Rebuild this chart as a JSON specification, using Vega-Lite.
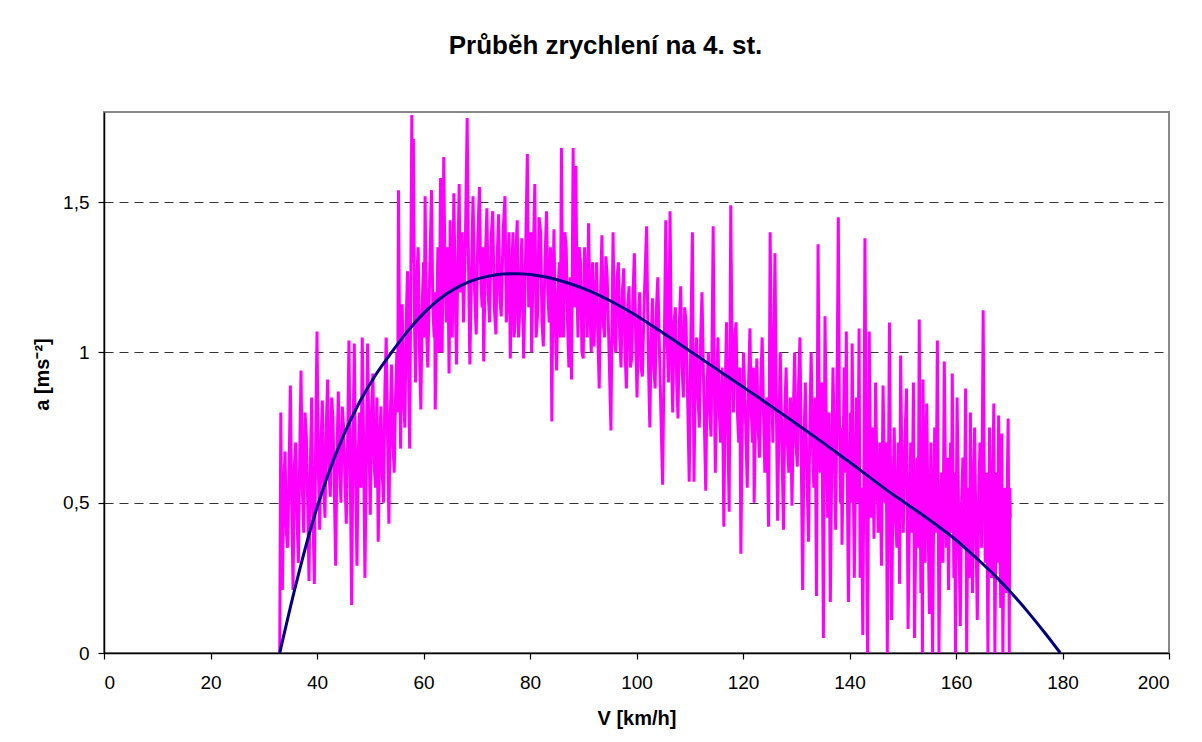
{
  "$schema": "https://vega.github.io/schema/vega-lite/v6.json",
  "width": 1065,
  "height": 541,
  "autosize": {"type": "none"},
  "padding": {"left": 104, "top": 112, "right": 33, "bottom": 89},
  "background": "white",
  "title": {
    "text": "Průběh zrychlení na 4. st.",
    "font": "Liberation Sans",
    "fontSize": 26,
    "fontWeight": "bold",
    "color": "black",
    "anchor": "middle",
    "dx": -31,
    "baseline": "alphabetic",
    "offset": 32
  },
  "config": {
    "locale": {"number": {"decimal": ",", "thousands": " ", "grouping": [3], "currency": ["", " Kč"]}},
    "view": {"stroke": "#888888", "strokeWidth": 2},
    "axis": {
      "labelFont": "Liberation Sans",
      "labelFontSize": 19,
      "labelColor": "black",
      "titleFont": "Liberation Sans",
      "titleFontSize": 20,
      "titleFontWeight": "bold",
      "titleColor": "black",
      "domainColor": "black",
      "domainWidth": 1.5,
      "tickColor": "black",
      "tickWidth": 1.2,
      "tickSize": 6
    }
  },
  "datasets": {
    "noise": [
      {"v": 33.0, "a": 0.00}, {"v": 33.2, "a": 0.80}, {"v": 33.35, "a": 0.45}, {"v": 33.5, "a": 0.21}, {"v": 33.75, "a": 0.55},
      {"v": 34.0, "a": 0.67}, {"v": 34.25, "a": 0.40}, {"v": 34.5, "a": 0.35}, {"v": 34.75, "a": 0.60}, {"v": 35.0, "a": 0.89},
      {"v": 35.25, "a": 0.50}, {"v": 35.5, "a": 0.21}, {"v": 35.75, "a": 0.62}, {"v": 36.0, "a": 0.70}, {"v": 36.25, "a": 0.45},
      {"v": 36.5, "a": 0.30}, {"v": 36.75, "a": 0.65}, {"v": 37.0, "a": 0.94}, {"v": 37.25, "a": 0.55}, {"v": 37.5, "a": 0.40},
      {"v": 37.75, "a": 0.80}, {"v": 38.0, "a": 0.72}, {"v": 38.25, "a": 0.50}, {"v": 38.5, "a": 0.24}, {"v": 38.75, "a": 0.62},
      {"v": 39.0, "a": 0.85}, {"v": 39.25, "a": 0.45}, {"v": 39.5, "a": 0.23}, {"v": 39.75, "a": 0.70}, {"v": 40.0, "a": 1.07},
      {"v": 40.25, "a": 0.62}, {"v": 40.5, "a": 0.41}, {"v": 40.75, "a": 0.70}, {"v": 41.0, "a": 0.84}, {"v": 41.25, "a": 0.55},
      {"v": 41.5, "a": 0.45}, {"v": 41.75, "a": 0.76}, {"v": 42.0, "a": 0.91}, {"v": 42.25, "a": 0.60}, {"v": 42.5, "a": 0.52},
      {"v": 42.75, "a": 0.85}, {"v": 43.0, "a": 0.78}, {"v": 43.25, "a": 0.55}, {"v": 43.5, "a": 0.29}, {"v": 43.75, "a": 0.66},
      {"v": 44.0, "a": 0.87}, {"v": 44.25, "a": 0.62}, {"v": 44.5, "a": 0.50}, {"v": 44.75, "a": 0.82}, {"v": 45.0, "a": 0.75},
      {"v": 45.25, "a": 0.58}, {"v": 45.5, "a": 0.43}, {"v": 45.75, "a": 0.70}, {"v": 46.0, "a": 1.04}, {"v": 46.25, "a": 0.60},
      {"v": 46.5, "a": 0.16}, {"v": 46.75, "a": 0.68}, {"v": 47.0, "a": 1.03}, {"v": 47.25, "a": 0.60}, {"v": 47.5, "a": 0.29},
      {"v": 47.75, "a": 0.66}, {"v": 48.0, "a": 0.80}, {"v": 48.25, "a": 0.55}, {"v": 48.5, "a": 1.05}, {"v": 48.75, "a": 0.70},
      {"v": 49.0, "a": 0.25}, {"v": 49.25, "a": 0.62}, {"v": 49.5, "a": 1.03}, {"v": 49.75, "a": 0.72}, {"v": 50.0, "a": 0.46},
      {"v": 50.25, "a": 0.80}, {"v": 50.5, "a": 0.93}, {"v": 50.75, "a": 0.62}, {"v": 51.0, "a": 0.55}, {"v": 51.25, "a": 0.85},
      {"v": 51.5, "a": 0.37}, {"v": 51.75, "a": 0.68}, {"v": 52.0, "a": 0.82}, {"v": 52.25, "a": 0.60}, {"v": 52.5, "a": 0.50},
      {"v": 52.75, "a": 0.88}, {"v": 53.0, "a": 1.05}, {"v": 53.25, "a": 0.72}, {"v": 53.5, "a": 0.43}, {"v": 53.75, "a": 0.78},
      {"v": 54.0, "a": 0.96}, {"v": 54.25, "a": 0.70}, {"v": 54.5, "a": 0.60}, {"v": 54.75, "a": 0.85}, {"v": 55.0, "a": 1.00},
      {"v": 55.15, "a": 0.80}, {"v": 55.3, "a": 1.54}, {"v": 55.5, "a": 1.05}, {"v": 55.7, "a": 0.68}, {"v": 55.85, "a": 1.00},
      {"v": 56.0, "a": 1.16}, {"v": 56.25, "a": 0.85}, {"v": 56.5, "a": 0.75}, {"v": 56.75, "a": 1.10}, {"v": 57.0, "a": 1.27},
      {"v": 57.2, "a": 0.95}, {"v": 57.4, "a": 0.68}, {"v": 57.6, "a": 1.20}, {"v": 57.8, "a": 1.79}, {"v": 57.95, "a": 1.30},
      {"v": 58.1, "a": 1.71}, {"v": 58.3, "a": 1.10}, {"v": 58.5, "a": 0.90}, {"v": 58.75, "a": 1.25}, {"v": 59.0, "a": 1.35},
      {"v": 59.25, "a": 1.00}, {"v": 59.5, "a": 0.81}, {"v": 59.75, "a": 1.15}, {"v": 60.0, "a": 1.30}, {"v": 60.15, "a": 1.05},
      {"v": 60.3, "a": 1.52}, {"v": 60.55, "a": 1.10}, {"v": 60.8, "a": 0.95}, {"v": 61.15, "a": 1.25}, {"v": 61.5, "a": 1.54},
      {"v": 61.75, "a": 1.15}, {"v": 62.0, "a": 1.05}, {"v": 62.1, "a": 1.20}, {"v": 62.2, "a": 0.81}, {"v": 62.45, "a": 1.10},
      {"v": 62.7, "a": 1.35}, {"v": 62.95, "a": 1.00}, {"v": 63.2, "a": 1.58}, {"v": 63.35, "a": 1.20}, {"v": 63.5, "a": 1.00},
      {"v": 63.65, "a": 1.30}, {"v": 63.8, "a": 1.65}, {"v": 64.05, "a": 1.25}, {"v": 64.3, "a": 1.10}, {"v": 64.55, "a": 1.35},
      {"v": 64.8, "a": 0.93}, {"v": 64.9, "a": 1.15}, {"v": 65.0, "a": 1.44}, {"v": 65.2, "a": 1.15}, {"v": 65.4, "a": 1.05},
      {"v": 65.55, "a": 1.30}, {"v": 65.7, "a": 1.53}, {"v": 65.95, "a": 1.20}, {"v": 66.2, "a": 0.96}, {"v": 66.45, "a": 1.30},
      {"v": 66.7, "a": 1.56}, {"v": 66.85, "a": 1.25}, {"v": 67.0, "a": 1.20}, {"v": 67.25, "a": 1.40}, {"v": 67.5, "a": 1.10},
      {"v": 67.85, "a": 1.35}, {"v": 68.2, "a": 1.78}, {"v": 68.45, "a": 1.30}, {"v": 68.7, "a": 0.96}, {"v": 69.0, "a": 1.25},
      {"v": 69.3, "a": 1.52}, {"v": 69.6, "a": 1.20}, {"v": 69.9, "a": 1.06}, {"v": 70.2, "a": 1.38}, {"v": 70.5, "a": 1.55},
      {"v": 70.75, "a": 1.25}, {"v": 71.0, "a": 1.15}, {"v": 71.15, "a": 1.35}, {"v": 71.3, "a": 0.97}, {"v": 71.6, "a": 1.30},
      {"v": 71.9, "a": 1.48}, {"v": 72.15, "a": 1.20}, {"v": 72.4, "a": 1.10}, {"v": 72.7, "a": 1.38}, {"v": 73.0, "a": 1.47},
      {"v": 73.3, "a": 1.15}, {"v": 73.6, "a": 1.06}, {"v": 73.85, "a": 1.32}, {"v": 74.1, "a": 1.46}, {"v": 74.35, "a": 1.18},
      {"v": 74.6, "a": 1.12}, {"v": 74.95, "a": 1.40}, {"v": 75.3, "a": 1.52}, {"v": 75.55, "a": 1.10}, {"v": 75.8, "a": 1.20},
      {"v": 76.05, "a": 1.40}, {"v": 76.3, "a": 0.98}, {"v": 76.55, "a": 1.25}, {"v": 76.8, "a": 1.40}, {"v": 77.0, "a": 1.05},
      {"v": 77.2, "a": 1.10}, {"v": 77.4, "a": 1.35}, {"v": 77.6, "a": 1.44}, {"v": 77.85, "a": 1.05}, {"v": 78.1, "a": 1.15},
      {"v": 78.45, "a": 1.38}, {"v": 78.8, "a": 0.98}, {"v": 79.15, "a": 1.30}, {"v": 79.5, "a": 1.66}, {"v": 79.75, "a": 1.15},
      {"v": 80.0, "a": 1.25}, {"v": 80.15, "a": 1.40}, {"v": 80.3, "a": 1.00}, {"v": 80.6, "a": 1.30}, {"v": 80.9, "a": 1.56},
      {"v": 81.15, "a": 1.05}, {"v": 81.4, "a": 1.12}, {"v": 81.7, "a": 1.45}, {"v": 82.0, "a": 1.40}, {"v": 82.25, "a": 1.10},
      {"v": 82.5, "a": 1.02}, {"v": 82.8, "a": 1.30}, {"v": 83.1, "a": 1.47}, {"v": 83.35, "a": 1.20}, {"v": 83.6, "a": 1.10},
      {"v": 83.85, "a": 1.35}, {"v": 84.1, "a": 0.77}, {"v": 84.3, "a": 1.20}, {"v": 84.5, "a": 1.41}, {"v": 84.75, "a": 1.10},
      {"v": 85.0, "a": 0.94}, {"v": 85.25, "a": 1.20}, {"v": 85.5, "a": 1.30}, {"v": 85.7, "a": 1.05}, {"v": 85.9, "a": 1.68},
      {"v": 86.1, "a": 1.25}, {"v": 86.3, "a": 1.05}, {"v": 86.55, "a": 1.40}, {"v": 86.8, "a": 1.35}, {"v": 87.05, "a": 1.10},
      {"v": 87.3, "a": 0.95}, {"v": 87.55, "a": 1.25}, {"v": 87.8, "a": 0.91}, {"v": 87.95, "a": 1.30}, {"v": 88.1, "a": 1.68},
      {"v": 88.35, "a": 1.15}, {"v": 88.6, "a": 1.62}, {"v": 88.8, "a": 1.25}, {"v": 89.0, "a": 1.05}, {"v": 89.25, "a": 1.35},
      {"v": 89.5, "a": 1.30}, {"v": 89.75, "a": 1.00}, {"v": 90.0, "a": 0.98}, {"v": 90.25, "a": 1.35}, {"v": 90.5, "a": 1.25},
      {"v": 90.75, "a": 1.05}, {"v": 91.0, "a": 1.43}, {"v": 91.25, "a": 1.15}, {"v": 91.5, "a": 1.00}, {"v": 91.75, "a": 1.30},
      {"v": 92.0, "a": 1.02}, {"v": 92.25, "a": 1.15}, {"v": 92.5, "a": 1.30}, {"v": 92.75, "a": 1.05}, {"v": 93.0, "a": 0.88},
      {"v": 93.25, "a": 1.20}, {"v": 93.5, "a": 1.39}, {"v": 93.75, "a": 1.10}, {"v": 94.0, "a": 1.05}, {"v": 94.25, "a": 1.32},
      {"v": 94.5, "a": 1.25}, {"v": 94.85, "a": 1.00}, {"v": 95.2, "a": 0.74}, {"v": 95.4, "a": 1.10}, {"v": 95.6, "a": 1.40},
      {"v": 95.85, "a": 1.05}, {"v": 96.1, "a": 1.00}, {"v": 96.35, "a": 1.25}, {"v": 96.6, "a": 1.30}, {"v": 96.85, "a": 1.05},
      {"v": 97.1, "a": 0.95}, {"v": 97.35, "a": 1.20}, {"v": 97.6, "a": 1.28}, {"v": 97.85, "a": 1.00}, {"v": 98.1, "a": 0.88},
      {"v": 98.35, "a": 1.15}, {"v": 98.6, "a": 1.22}, {"v": 98.85, "a": 0.95}, {"v": 99.1, "a": 0.98}, {"v": 99.35, "a": 1.20},
      {"v": 99.6, "a": 1.33}, {"v": 99.85, "a": 1.05}, {"v": 100.1, "a": 0.85}, {"v": 100.35, "a": 1.10}, {"v": 100.6, "a": 1.20},
      {"v": 100.85, "a": 0.95}, {"v": 101.1, "a": 0.92}, {"v": 101.5, "a": 1.20}, {"v": 101.9, "a": 1.42}, {"v": 102.2, "a": 1.00},
      {"v": 102.5, "a": 0.75}, {"v": 102.75, "a": 1.05}, {"v": 103.0, "a": 1.18}, {"v": 103.25, "a": 0.95}, {"v": 103.5, "a": 0.88},
      {"v": 103.75, "a": 1.15}, {"v": 104.0, "a": 1.25}, {"v": 104.45, "a": 0.90}, {"v": 104.9, "a": 0.56}, {"v": 105.2, "a": 1.00},
      {"v": 105.5, "a": 1.44}, {"v": 105.75, "a": 1.05}, {"v": 106.0, "a": 0.90}, {"v": 106.15, "a": 1.20}, {"v": 106.3, "a": 1.47},
      {"v": 106.55, "a": 1.00}, {"v": 106.8, "a": 0.80}, {"v": 107.05, "a": 1.10}, {"v": 107.3, "a": 1.15}, {"v": 107.55, "a": 0.90},
      {"v": 107.8, "a": 0.78}, {"v": 108.05, "a": 1.10}, {"v": 108.3, "a": 1.22}, {"v": 108.55, "a": 0.95}, {"v": 108.8, "a": 0.85},
      {"v": 109.05, "a": 1.15}, {"v": 109.3, "a": 1.10}, {"v": 109.6, "a": 0.85}, {"v": 109.9, "a": 0.57}, {"v": 110.2, "a": 1.05},
      {"v": 110.5, "a": 1.40}, {"v": 110.65, "a": 0.90}, {"v": 110.8, "a": 0.57}, {"v": 111.05, "a": 0.95}, {"v": 111.3, "a": 1.05},
      {"v": 111.55, "a": 0.85}, {"v": 111.8, "a": 0.75}, {"v": 112.05, "a": 1.05}, {"v": 112.3, "a": 1.20}, {"v": 112.65, "a": 0.85},
      {"v": 113.0, "a": 0.54}, {"v": 113.25, "a": 0.90}, {"v": 113.5, "a": 1.00}, {"v": 113.75, "a": 0.80}, {"v": 114.0, "a": 0.72},
      {"v": 114.2, "a": 1.05}, {"v": 114.4, "a": 1.42}, {"v": 114.6, "a": 0.95}, {"v": 114.8, "a": 0.60}, {"v": 115.05, "a": 0.90},
      {"v": 115.3, "a": 1.05}, {"v": 115.55, "a": 0.80}, {"v": 115.8, "a": 0.70}, {"v": 116.1, "a": 0.95}, {"v": 116.4, "a": 0.42},
      {"v": 116.65, "a": 0.85}, {"v": 116.9, "a": 1.10}, {"v": 117.15, "a": 0.75}, {"v": 117.4, "a": 0.47}, {"v": 117.55, "a": 0.95},
      {"v": 117.7, "a": 1.49}, {"v": 117.95, "a": 1.00}, {"v": 118.2, "a": 0.80}, {"v": 118.45, "a": 1.05}, {"v": 118.7, "a": 1.10},
      {"v": 118.95, "a": 0.80}, {"v": 119.2, "a": 0.70}, {"v": 119.4, "a": 0.95}, {"v": 119.6, "a": 0.33}, {"v": 119.85, "a": 0.75},
      {"v": 120.1, "a": 1.00}, {"v": 120.45, "a": 0.80}, {"v": 120.8, "a": 0.55}, {"v": 121.05, "a": 0.90}, {"v": 121.3, "a": 1.08},
      {"v": 121.55, "a": 0.80}, {"v": 121.8, "a": 0.70}, {"v": 121.95, "a": 0.95}, {"v": 122.1, "a": 0.50}, {"v": 122.35, "a": 0.80},
      {"v": 122.6, "a": 0.98}, {"v": 122.85, "a": 0.75}, {"v": 123.1, "a": 0.65}, {"v": 123.35, "a": 0.90}, {"v": 123.6, "a": 1.05},
      {"v": 123.85, "a": 0.80}, {"v": 124.1, "a": 0.60}, {"v": 124.45, "a": 0.85}, {"v": 124.8, "a": 0.42}, {"v": 124.95, "a": 0.90},
      {"v": 125.1, "a": 1.40}, {"v": 125.35, "a": 0.95}, {"v": 125.6, "a": 0.70}, {"v": 125.8, "a": 1.00}, {"v": 126.0, "a": 1.33},
      {"v": 126.25, "a": 0.85}, {"v": 126.5, "a": 0.44}, {"v": 126.75, "a": 0.75}, {"v": 127.0, "a": 1.00}, {"v": 127.3, "a": 0.70},
      {"v": 127.6, "a": 0.41}, {"v": 127.85, "a": 0.80}, {"v": 128.1, "a": 0.95}, {"v": 128.35, "a": 0.70}, {"v": 128.6, "a": 0.60},
      {"v": 128.9, "a": 0.85}, {"v": 129.2, "a": 0.49}, {"v": 129.45, "a": 0.80}, {"v": 129.7, "a": 1.00}, {"v": 129.95, "a": 0.70},
      {"v": 130.2, "a": 0.62}, {"v": 130.45, "a": 0.90}, {"v": 130.7, "a": 1.05}, {"v": 130.95, "a": 0.65}, {"v": 131.2, "a": 0.21},
      {"v": 131.45, "a": 0.70}, {"v": 131.7, "a": 0.90}, {"v": 132.0, "a": 0.60}, {"v": 132.3, "a": 0.37}, {"v": 132.55, "a": 0.75},
      {"v": 132.8, "a": 1.00}, {"v": 133.05, "a": 0.70}, {"v": 133.3, "a": 0.55}, {"v": 133.55, "a": 0.85}, {"v": 133.8, "a": 0.19},
      {"v": 133.95, "a": 0.80}, {"v": 134.1, "a": 1.36}, {"v": 134.3, "a": 0.85}, {"v": 134.5, "a": 0.60}, {"v": 134.8, "a": 0.90},
      {"v": 135.1, "a": 0.05}, {"v": 135.25, "a": 0.60}, {"v": 135.4, "a": 1.12}, {"v": 135.65, "a": 0.75}, {"v": 135.9, "a": 0.45},
      {"v": 136.15, "a": 0.80}, {"v": 136.4, "a": 0.17}, {"v": 136.65, "a": 0.60}, {"v": 136.9, "a": 0.95}, {"v": 137.15, "a": 0.70},
      {"v": 137.4, "a": 0.41}, {"v": 137.65, "a": 0.85}, {"v": 137.9, "a": 1.45}, {"v": 138.1, "a": 0.80}, {"v": 138.3, "a": 0.50},
      {"v": 138.45, "a": 0.75}, {"v": 138.6, "a": 0.36}, {"v": 138.8, "a": 0.65}, {"v": 139.0, "a": 0.95}, {"v": 139.2, "a": 0.60},
      {"v": 139.4, "a": 1.07}, {"v": 139.6, "a": 0.55}, {"v": 139.8, "a": 0.17}, {"v": 140.0, "a": 0.55}, {"v": 140.2, "a": 0.80},
      {"v": 140.35, "a": 0.50}, {"v": 140.5, "a": 1.03}, {"v": 140.7, "a": 0.60}, {"v": 140.9, "a": 0.25}, {"v": 141.1, "a": 0.55},
      {"v": 141.3, "a": 0.85}, {"v": 141.55, "a": 0.50}, {"v": 141.8, "a": 1.08}, {"v": 141.9, "a": 0.60}, {"v": 142.0, "a": 0.25},
      {"v": 142.25, "a": 0.55}, {"v": 142.5, "a": 0.06}, {"v": 142.7, "a": 0.60}, {"v": 142.9, "a": 1.38}, {"v": 143.15, "a": 0.60},
      {"v": 143.4, "a": 0.00}, {"v": 143.55, "a": 0.55}, {"v": 143.7, "a": 1.07}, {"v": 143.9, "a": 0.70}, {"v": 144.1, "a": 0.45},
      {"v": 144.35, "a": 0.75}, {"v": 144.6, "a": 0.38}, {"v": 144.75, "a": 0.65}, {"v": 144.9, "a": 0.90}, {"v": 145.15, "a": 0.60},
      {"v": 145.4, "a": 0.40}, {"v": 145.7, "a": 0.70}, {"v": 146.0, "a": 0.29}, {"v": 146.15, "a": 0.60}, {"v": 146.3, "a": 0.89},
      {"v": 146.5, "a": 0.65}, {"v": 146.7, "a": 0.50}, {"v": 146.9, "a": 0.70}, {"v": 147.1, "a": 0.00}, {"v": 147.3, "a": 0.55},
      {"v": 147.5, "a": 1.10}, {"v": 147.7, "a": 0.60}, {"v": 147.9, "a": 0.11}, {"v": 148.15, "a": 0.50}, {"v": 148.4, "a": 0.75},
      {"v": 148.65, "a": 0.45}, {"v": 148.9, "a": 0.35}, {"v": 149.15, "a": 0.70}, {"v": 149.4, "a": 0.23}, {"v": 149.5, "a": 0.55},
      {"v": 149.6, "a": 0.99}, {"v": 149.85, "a": 0.60}, {"v": 150.1, "a": 0.40}, {"v": 150.4, "a": 0.70}, {"v": 150.7, "a": 0.88},
      {"v": 150.85, "a": 0.50}, {"v": 151.0, "a": 0.08}, {"v": 151.25, "a": 0.45}, {"v": 151.5, "a": 0.70}, {"v": 151.75, "a": 0.40},
      {"v": 152.0, "a": 0.90}, {"v": 152.1, "a": 0.50}, {"v": 152.2, "a": 0.05}, {"v": 152.45, "a": 0.40}, {"v": 152.7, "a": 0.65},
      {"v": 152.9, "a": 0.35}, {"v": 153.1, "a": 1.11}, {"v": 153.25, "a": 0.60}, {"v": 153.4, "a": 0.20}, {"v": 153.55, "a": 0.55},
      {"v": 153.7, "a": 0.00}, {"v": 153.75, "a": 0.50}, {"v": 153.8, "a": 0.91}, {"v": 154.0, "a": 0.55}, {"v": 154.2, "a": 0.30},
      {"v": 154.35, "a": 0.65}, {"v": 154.5, "a": 0.83}, {"v": 154.75, "a": 0.45}, {"v": 155.0, "a": 0.13}, {"v": 155.15, "a": 0.50},
      {"v": 155.3, "a": 0.70}, {"v": 155.45, "a": 0.35}, {"v": 155.6, "a": 0.00}, {"v": 155.8, "a": 0.45}, {"v": 156.0, "a": 0.75},
      {"v": 156.25, "a": 0.40}, {"v": 156.5, "a": 1.04}, {"v": 156.65, "a": 0.55}, {"v": 156.8, "a": 0.00}, {"v": 157.05, "a": 0.45},
      {"v": 157.3, "a": 0.60}, {"v": 157.55, "a": 0.30}, {"v": 157.8, "a": 0.97}, {"v": 158.0, "a": 0.60}, {"v": 158.2, "a": 0.35},
      {"v": 158.4, "a": 0.65}, {"v": 158.6, "a": 0.21}, {"v": 158.8, "a": 0.55}, {"v": 159.0, "a": 0.70}, {"v": 159.15, "a": 0.40},
      {"v": 159.3, "a": 0.93}, {"v": 159.45, "a": 0.55}, {"v": 159.6, "a": 0.25}, {"v": 159.75, "a": 0.60}, {"v": 159.9, "a": 0.00},
      {"v": 160.05, "a": 0.45}, {"v": 160.2, "a": 0.85}, {"v": 160.5, "a": 0.45}, {"v": 160.8, "a": 0.09}, {"v": 161.05, "a": 0.50},
      {"v": 161.3, "a": 0.65}, {"v": 161.55, "a": 0.35}, {"v": 161.8, "a": 0.88}, {"v": 161.9, "a": 0.45}, {"v": 162.0, "a": 0.00},
      {"v": 162.2, "a": 0.40}, {"v": 162.4, "a": 0.55}, {"v": 162.55, "a": 0.25}, {"v": 162.7, "a": 0.80}, {"v": 162.9, "a": 0.45},
      {"v": 163.1, "a": 0.20}, {"v": 163.3, "a": 0.55}, {"v": 163.5, "a": 0.75}, {"v": 163.75, "a": 0.40}, {"v": 164.0, "a": 0.11},
      {"v": 164.25, "a": 0.50}, {"v": 164.5, "a": 0.70}, {"v": 164.8, "a": 0.35}, {"v": 165.1, "a": 1.14}, {"v": 165.3, "a": 0.60},
      {"v": 165.5, "a": 0.30}, {"v": 165.75, "a": 0.60}, {"v": 166.0, "a": 0.00}, {"v": 166.15, "a": 0.45}, {"v": 166.3, "a": 0.75},
      {"v": 166.5, "a": 0.50}, {"v": 166.7, "a": 0.25}, {"v": 166.9, "a": 0.55}, {"v": 167.1, "a": 0.83}, {"v": 167.2, "a": 0.40},
      {"v": 167.3, "a": 0.00}, {"v": 167.5, "a": 0.45}, {"v": 167.7, "a": 0.60}, {"v": 167.85, "a": 0.30}, {"v": 168.0, "a": 0.79},
      {"v": 168.2, "a": 0.45}, {"v": 168.4, "a": 0.15}, {"v": 168.5, "a": 0.50}, {"v": 168.6, "a": 0.73}, {"v": 168.7, "a": 0.35},
      {"v": 168.8, "a": 0.00}, {"v": 169.0, "a": 0.40}, {"v": 169.2, "a": 0.55}, {"v": 169.35, "a": 0.35}, {"v": 169.5, "a": 0.20},
      {"v": 169.65, "a": 0.60}, {"v": 169.8, "a": 0.78}, {"v": 169.9, "a": 0.40}, {"v": 170.0, "a": 0.00}, {"v": 170.1, "a": 0.55},
      {"v": 170.2, "a": 0.45}
    ],
    "trend": [
      {"v": 33.0, "a": 0.00}, {"v": 36.0, "a": 0.225}, {"v": 39.0, "a": 0.425}, {"v": 42.0, "a": 0.59}, {"v": 45.0, "a": 0.725},
      {"v": 48.0, "a": 0.835}, {"v": 51.0, "a": 0.925}, {"v": 54.0, "a": 1.00}, {"v": 57.0, "a": 1.07}, {"v": 60.0, "a": 1.13},
      {"v": 63.0, "a": 1.178}, {"v": 66.0, "a": 1.213}, {"v": 69.0, "a": 1.238}, {"v": 72.0, "a": 1.253}, {"v": 75.0, "a": 1.261},
      {"v": 78.0, "a": 1.262}, {"v": 81.0, "a": 1.257}, {"v": 84.0, "a": 1.247}, {"v": 87.0, "a": 1.232}, {"v": 90.0, "a": 1.213},
      {"v": 93.0, "a": 1.19}, {"v": 96.0, "a": 1.163}, {"v": 99.0, "a": 1.133}, {"v": 102.0, "a": 1.10}, {"v": 105.0, "a": 1.065},
      {"v": 108.0, "a": 1.029}, {"v": 111.0, "a": 0.993}, {"v": 114.0, "a": 0.957}, {"v": 117.0, "a": 0.921}, {"v": 120.0, "a": 0.885},
      {"v": 123.0, "a": 0.849}, {"v": 126.0, "a": 0.812}, {"v": 129.0, "a": 0.775}, {"v": 132.0, "a": 0.738}, {"v": 135.0, "a": 0.70},
      {"v": 138.0, "a": 0.661}, {"v": 141.0, "a": 0.622}, {"v": 144.0, "a": 0.582}, {"v": 147.0, "a": 0.542}, {"v": 150.0, "a": 0.505},
      {"v": 153.0, "a": 0.468}, {"v": 156.0, "a": 0.43}, {"v": 159.0, "a": 0.39}, {"v": 162.0, "a": 0.345}, {"v": 165.0, "a": 0.297},
      {"v": 168.0, "a": 0.245}, {"v": 171.0, "a": 0.188}, {"v": 174.0, "a": 0.126}, {"v": 177.0, "a": 0.06}, {"v": 179.6, "a": 0.00}
    ]
  },
  "encoding": {
    "x": {
      "field": "v", "type": "quantitative",
      "scale": {"domain": [0, 200], "nice": false, "zero": false},
      "axis": {"values": [0, 20, 40, 60, 80, 100, 120, 140, 160, 180, 200], "grid": false, "title": "V [km/h]", "labelPadding": 14, "titlePadding": 16, "format": "d"}
    },
    "y": {
      "field": "a", "type": "quantitative",
      "scale": {"domain": [0, 1.8], "nice": false},
      "axis": {"values": [0, 0.5, 1, 1.5], "format": ".1~f", "grid": true, "gridColor": "#333333", "gridDash": [9, 6], "gridWidth": 1, "title": "a [ms⁻²]", "labelPadding": 9, "titlePadding": 10, "titleY": 262}
    }
  },
  "layer": [
    {
      "data": {"name": "noise"},
      "mark": {"type": "line", "color": "#FF00FF", "strokeWidth": 3, "clip": true}
    },
    {
      "data": {"name": "trend"},
      "mark": {"type": "line", "color": "#000080", "strokeWidth": 3, "interpolate": "monotone", "clip": true}
    }
  ]
}
